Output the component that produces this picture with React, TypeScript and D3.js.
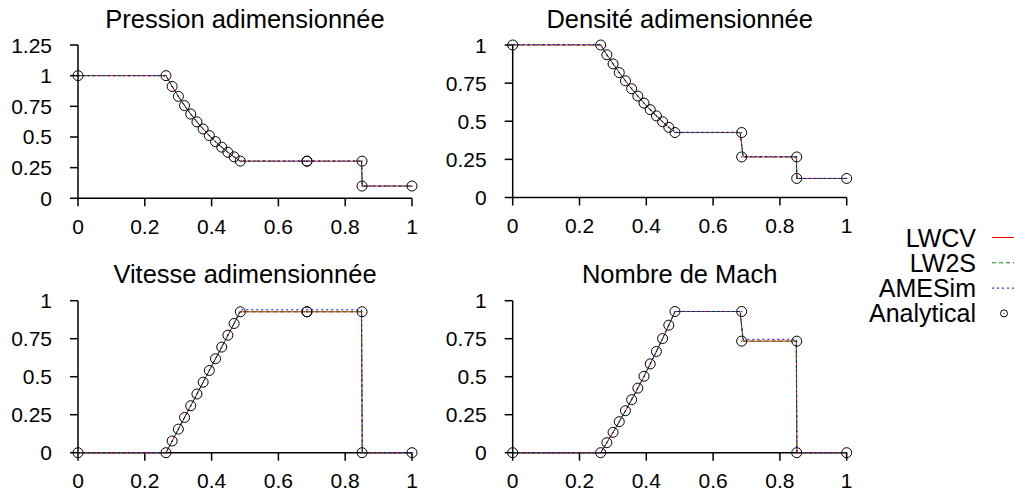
import React from "react";
import * as d3 from "d3";

// ---------- data ----------
const titles = ["Pression adimensionnée", "Densité adimensionnée", "Vitesse adimensionnée", "Nombre de Mach"];
const seriesNames = ["LWCV", "LW2S", "AMESim", "Analytical"];

const xTicks = [0, 0.2, 0.4, 0.6, 0.8, 1];
const xTickLabels = ["0", "0.2", "0.4", "0.6", "0.8", "1"];
const yTicksPressure = [0, 0.25, 0.5, 0.75, 1, 1.25];
const yTickLabelsPressure = ["0", "0.25", "0.5", "0.75", "1", "1.25"];
const yTicksUnit = [0, 0.25, 0.5, 0.75, 1];
const yTickLabelsUnit = ["0", "0.25", "0.5", "0.75", "1"];

// analytical solution points
const anaX = [0, 0.2634, 0.2819, 0.3005, 0.319, 0.3376, 0.3561, 0.3747, 0.3932, 0.4117, 0.4303, 0.4488, 0.4674, 0.4859, 0.6855, 0.6855, 0.8504, 0.8504, 1];
const anaPressure = [1, 1, 0.912, 0.831, 0.756, 0.687, 0.623, 0.565, 0.511, 0.462, 0.417, 0.375, 0.338, 0.303, 0.303, 0.303, 0.303, 0.1, 0.1];
const anaDensity = [1, 1, 0.936, 0.876, 0.819, 0.765, 0.713, 0.665, 0.619, 0.576, 0.535, 0.497, 0.46, 0.426, 0.426, 0.266, 0.266, 0.125, 0.125];
const anaVelocity = [0, 0, 0.077, 0.155, 0.232, 0.309, 0.386, 0.464, 0.541, 0.618, 0.695, 0.773, 0.85, 0.927, 0.927, 0.927, 0.927, 0, 0];
const anaMach = [0, 0, 0.066, 0.134, 0.204, 0.276, 0.349, 0.425, 0.503, 0.584, 0.666, 0.751, 0.839, 0.929, 0.929, 0.734, 0.734, 0, 0];

// numerical solutions (vertices)
const numX = [0, 0.2634, 0.2819, 0.3005, 0.319, 0.3376, 0.3561, 0.3747, 0.3932, 0.4117, 0.4303, 0.4488, 0.4674, 0.4859, 0.681, 0.69, 0.849, 0.851, 1];

const lwcvPressure = [1, 1, 0.912, 0.831, 0.756, 0.687, 0.623, 0.565, 0.511, 0.462, 0.417, 0.375, 0.338, 0.303, 0.303, 0.303, 0.303, 0.1, 0.1];
const lw2sPressure = [1, 1, 0.912, 0.831, 0.756, 0.687, 0.623, 0.565, 0.511, 0.462, 0.417, 0.375, 0.338, 0.303, 0.303, 0.303, 0.303, 0.1, 0.1];
const amesimPressure = [1, 1, 0.912, 0.831, 0.756, 0.687, 0.623, 0.565, 0.511, 0.462, 0.417, 0.375, 0.338, 0.304, 0.304, 0.304, 0.304, 0.1, 0.1];

const lwcvDensity = [1, 1, 0.936, 0.876, 0.819, 0.765, 0.713, 0.665, 0.619, 0.576, 0.535, 0.497, 0.46, 0.426, 0.426, 0.266, 0.266, 0.125, 0.125];
const lw2sDensity = [1, 1, 0.936, 0.876, 0.819, 0.765, 0.713, 0.665, 0.619, 0.576, 0.535, 0.497, 0.46, 0.426, 0.426, 0.266, 0.266, 0.125, 0.125];
const amesimDensity = [1.003, 1.003, 0.936, 0.876, 0.819, 0.765, 0.713, 0.665, 0.619, 0.576, 0.535, 0.497, 0.46, 0.428, 0.428, 0.268, 0.268, 0.125, 0.125];

const lwcvVelocity = [0, 0, 0.077, 0.155, 0.232, 0.309, 0.386, 0.464, 0.541, 0.618, 0.695, 0.773, 0.85, 0.927, 0.927, 0.927, 0.927, 0, 0];
const lw2sVelocity = [0, 0, 0.077, 0.155, 0.232, 0.309, 0.386, 0.464, 0.541, 0.618, 0.695, 0.773, 0.85, 0.927, 0.927, 0.927, 0.927, 0, 0];
const amesimVelocity = [0, 0, 0.077, 0.155, 0.232, 0.309, 0.386, 0.464, 0.541, 0.618, 0.695, 0.773, 0.85, 0.94, 0.94, 0.94, 0.94, 0, 0];

const lwcvMach = [0, 0, 0.066, 0.134, 0.204, 0.276, 0.349, 0.425, 0.503, 0.584, 0.666, 0.751, 0.839, 0.929, 0.929, 0.734, 0.734, 0, 0];
const lw2sMach = [0, 0, 0.066, 0.134, 0.204, 0.276, 0.349, 0.425, 0.503, 0.584, 0.666, 0.751, 0.839, 0.929, 0.929, 0.734, 0.734, 0, 0];
const amesimMach = [0, 0, 0.066, 0.134, 0.204, 0.276, 0.349, 0.425, 0.503, 0.584, 0.666, 0.751, 0.839, 0.929, 0.929, 0.746, 0.746, 0, 0];

// ---------- layout / style ----------
const W = 1014;
const H = 495;
const FONT = "'Liberation Sans', Arial, Helvetica, sans-serif";
const seriesColors = ["#ff0000", "#008a00", "#0000ff"];
const seriesDash = [undefined, "4,3", "2,3"];

const panels = [
  { title: titles[0], x0: 78, x1: 412, yTop: 45, yBot: 198.3, yMax: 1.25, ticks: yTicksPressure, tickLabels: yTickLabelsPressure, ana: anaPressure, nums: [lwcvPressure, lw2sPressure, amesimPressure], titleY: 28 },
  { title: titles[1], x0: 512.7, x1: 846.7, yTop: 45, yBot: 197.5, yMax: 1, ticks: yTicksUnit, tickLabels: yTickLabelsUnit, ana: anaDensity, nums: [lwcvDensity, lw2sDensity, amesimDensity], titleY: 27.5 },
  { title: titles[2], x0: 78, x1: 412, yTop: 300.7, yBot: 452.7, yMax: 1, ticks: yTicksUnit, tickLabels: yTickLabelsUnit, ana: anaVelocity, nums: [lwcvVelocity, lw2sVelocity, amesimVelocity], titleY: 283.3 },
  { title: titles[3], x0: 512.7, x1: 846.7, yTop: 300.7, yBot: 452.7, yMax: 1, ticks: yTicksUnit, tickLabels: yTickLabelsUnit, ana: anaMach, nums: [lwcvMach, lw2sMach, amesimMach], titleY: 283.3 },
];

function Panel({ p }: { p: (typeof panels)[number] }) {
  const xs = d3.scaleLinear().domain([0, 1]).range([p.x0, p.x1]);
  const ys = d3.scaleLinear().domain([0, p.yMax]).range([p.yBot, p.yTop]);
  const line = d3
    .line<[number, number]>()
    .x((d) => xs(d[0]))
    .y((d) => ys(d[1]));
  const tick = 8;
  return (
    <g>
      <text x={(p.x0 + p.x1) / 2} y={p.titleY} textAnchor="middle" fontSize={25.5} fontFamily={FONT} fill="#000">
        {p.title}
      </text>
      {/* axes */}
      <line x1={p.x0} x2={p.x0} y1={p.yTop} y2={p.yBot} stroke="#000" strokeWidth={1.5} />
      <line x1={p.x0} x2={p.x1} y1={p.yBot} y2={p.yBot} stroke="#000" strokeWidth={1.5} />
      {p.ticks.map((t, i) => (
        <g key={"y" + i}>
          <line x1={p.x0 - tick} x2={p.x0} y1={ys(t)} y2={ys(t)} stroke="#000" strokeWidth={1.5} />
          <text x={p.x0 - 26} y={ys(t) + 7.5} textAnchor="end" fontSize={21} fontFamily={FONT} fill="#000">
            {p.tickLabels[i]}
          </text>
        </g>
      ))}
      {xTicks.map((t, i) => (
        <g key={"x" + i}>
          <line x1={xs(t)} x2={xs(t)} y1={p.yBot} y2={p.yBot + tick} stroke="#000" strokeWidth={1.5} />
          <text x={xs(t)} y={p.yBot + 35.5} textAnchor="middle" fontSize={21} fontFamily={FONT} fill="#000">
            {xTickLabels[i]}
          </text>
        </g>
      ))}
      {/* numerical series */}
      {p.nums.map((vals, si) => (
        <path
          key={"s" + si}
          d={line(numX.map((x, k) => [x, vals[k]] as [number, number])) || ""}
          fill="none"
          stroke={seriesColors[si]}
          strokeWidth={1}
          strokeDasharray={seriesDash[si]}
        />
      ))}
      {/* analytical points */}
      {anaX.map((x, k) => (
        <g key={"a" + k}>
          <circle cx={xs(x)} cy={ys(p.ana[k])} r={5} fill="none" stroke="#000" strokeWidth={1} />
          <circle cx={xs(x)} cy={ys(p.ana[k])} r={0.6} fill="#000" />
        </g>
      ))}
    </g>
  );
}

function Legend() {
  const base = 246.5;
  const step = 25.3;
  return (
    <g>
      {seriesNames.map((name, i) => {
        const yb = base + i * step;
        const yc = yb - 9;
        return (
          <g key={name}>
            <text x={976} y={yb} textAnchor="end" fontSize={25} fontFamily={FONT} fill="#000">
              {name}
            </text>
            {i < 3 ? (
              <line x1={992} x2={1016} y1={yc} y2={yc} stroke={seriesColors[i]} strokeWidth={1} strokeDasharray={seriesDash[i]} />
            ) : (
              <g>
                <circle cx={1004} cy={yc} r={3.5} fill="none" stroke="#000" strokeWidth={1} />
                <circle cx={1004} cy={yc} r={0.6} fill="#000" />
              </g>
            )}
          </g>
        );
      })}
    </g>
  );
}

export default function App() {
  return (
    <div style={{ position: "absolute", left: 0, top: 0 }}>
      <svg width={W} height={H} viewBox={`0 0 ${W} ${H}`} style={{ display: "block", background: "#fff" }}>
        <rect x={0} y={0} width={W} height={H} fill="#fff" />
        {panels.map((p, i) => (
          <Panel key={i} p={p} />
        ))}
        <Legend />
      </svg>
    </div>
  );
}
